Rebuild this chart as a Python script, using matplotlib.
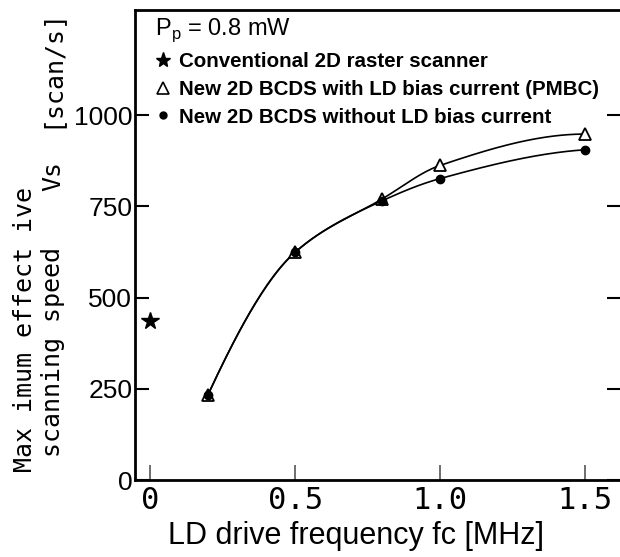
import numpy as np
import matplotlib
matplotlib.use("Agg")
import matplotlib.pyplot as plt
from matplotlib.lines import Line2D

# 数据
freq_raster = [0.0]
speed_raster = [436]
freq_bcds = [0.2, 0.5, 0.8, 1.0, 1.5]
speed_pmbc = [234, 624, 770, 862, 948]
speed_nobias = [234, 624, 765, 826, 905]

x_ticks = [0, 0.5, 1.0, 1.5]
x_ticklabels = ["0", "0.5", "1.0", "1.5"]
y_ticks = [0, 250, 500, 750, 1000]

legend_labels = ["Conventional 2D raster scanner",
                 "New 2D BCDS with LD bias current (PMBC)",
                 "New 2D BCDS without LD bias current"]

SANS = ["Liberation Sans", "DejaVu Sans"]
MONO = ["DejaVu Sans Mono"]


def smooth_curve(x, y, n=200):
    """单调三次 Hermite 插值，只用于画平滑曲线"""
    x = np.asarray(x, float)
    y = np.asarray(y, float)
    h = np.diff(x)
    d = np.diff(y) / h
    m = np.zeros_like(y)
    for k in range(1, len(x) - 1):
        if d[k - 1] * d[k] > 0:
            w1 = 2 * h[k] + h[k - 1]
            w2 = h[k] + 2 * h[k - 1]
            m[k] = (w1 + w2) / (w1 / d[k - 1] + w2 / d[k])
    # 端点用三点公式
    m[0] = ((2 * h[0] + h[1]) * d[0] - h[0] * d[1]) / (h[0] + h[1])
    if m[0] > 3 * d[0]:
        m[0] = 3 * d[0]
    m[-1] = ((2 * h[-1] + h[-2]) * d[-1] - h[-1] * d[-2]) / (h[-1] + h[-2])
    if m[-1] < 0:
        m[-1] = 0
    xs = np.linspace(x[0], x[-1], n)
    idx = np.clip(np.searchsorted(x, xs) - 1, 0, len(h) - 1)
    t = (xs - x[idx]) / h[idx]
    h00 = 2 * t**3 - 3 * t**2 + 1
    h10 = t**3 - 2 * t**2 + t
    h01 = -2 * t**3 + 3 * t**2
    h11 = t**3 - t**2
    ys = (h00 * y[idx] + h10 * h[idx] * m[idx]
          + h01 * y[idx + 1] + h11 * h[idx] * m[idx + 1])
    return xs, ys


fig = plt.figure(figsize=(6.2, 5.57), dpi=100)
ax = fig.add_axes([135 / 620, 77 / 557, 486 / 620, 470 / 557])

# 曲线
xs, ys = smooth_curve(freq_bcds, speed_pmbc)
ax.plot(xs, ys, color="black", lw=1.2)
xs, ys = smooth_curve(freq_bcds, speed_nobias)
ax.plot(xs, ys, color="black", lw=1.2)

# 数据点
ax.plot(freq_raster, speed_raster, "*", color="black", ms=13, ls="none")
ax.plot(freq_bcds, speed_pmbc, "^", mfc="white", mec="black", mew=1.3,
        ms=9, ls="none")
ax.plot(freq_bcds, speed_nobias, "o", color="black", ms=6, ls="none")

ax.set_xlim(-0.052, 1.624)
ax.set_ylim(0, 1288)

ax.set_xticks(x_ticks)
ax.set_xticklabels(x_ticklabels, family=MONO, fontsize=22)
ax.set_yticks(y_ticks)
ax.set_yticklabels([str(v) for v in y_ticks], family=SANS, fontsize=19)
ax.tick_params(axis="y", direction="in", length=10, width=1.5, pad=2,
               right=True)
ax.tick_params(axis="x", direction="in", length=11, width=1.2, pad=4,
               colors="#555555", labelcolor="black")

for side in ["left", "bottom", "top"]:
    ax.spines[side].set_linewidth(2)
ax.spines["right"].set_visible(False)

# 图例
handles = [
    Line2D([], [], marker="*", color="black", ms=11, ls="none"),
    Line2D([], [], marker="^", mfc="white", mec="black", mew=1.2, ms=8,
           ls="none"),
    Line2D([], [], marker="o", color="black", ms=5, ls="none"),
]
leg = ax.legend(handles, legend_labels, loc="upper left",
                bbox_to_anchor=(0.012, 1.018), frameon=False,
                prop={"family": SANS, "weight": "bold", "size": 14.8},
                handlelength=0.8, handletextpad=0.35, labelspacing=0.42,
                borderpad=0.2, title="P$_\\mathregular{p}$ = 0.8 mW",
                title_fontproperties={"family": SANS, "size": 17},
                alignment="left")

# 轴标签
fig.text(356 / 620, 1 - 536 / 557, "LD drive frequency fc [MHz]",
         family=SANS, fontsize=22, ha="center", va="center")
fig.text(25 / 620, 1 - 330 / 557, "Max imum effect ive", family=MONO,
         fontsize=18, rotation=90, ha="center", va="center")
fig.text(53 / 620, 1 - 352 / 557, "scanning speed", family=MONO,
         fontsize=18, rotation=90, ha="center", va="center")
fig.text(53 / 620, 1 - 176 / 557, "Vs", family=MONO,
         fontsize=18, rotation=90, ha="center", va="center")
fig.text(50 / 620, 1 - 68 / 557, "[scan/s]", family=MONO,
         fontsize=18, rotation=90, ha="center", va="center")

fig.savefig("out.png", dpi=100)
